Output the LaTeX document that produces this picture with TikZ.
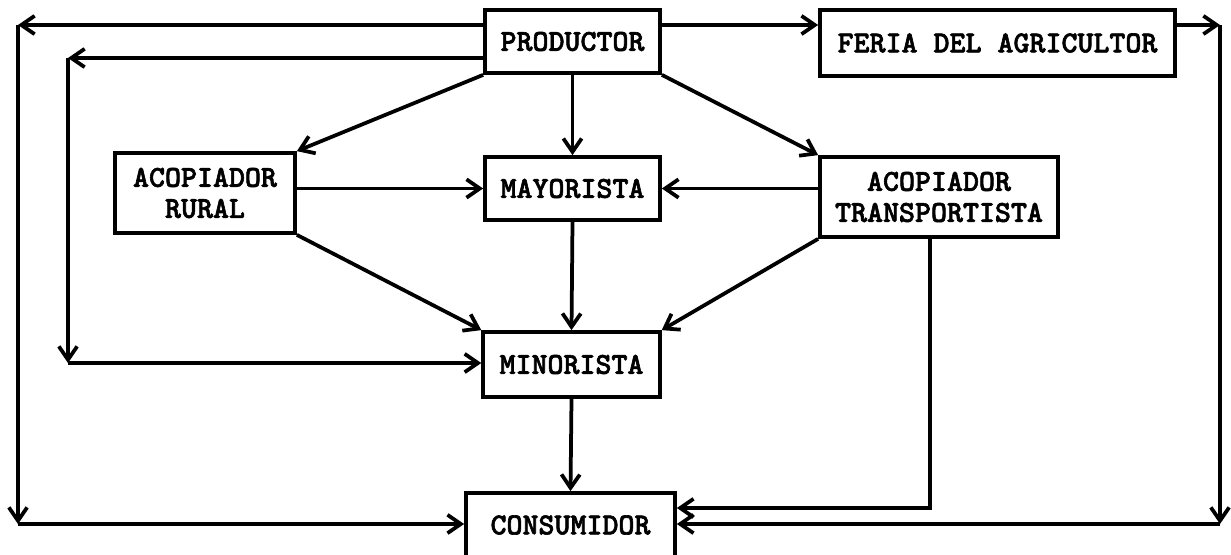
\documentclass[tikz,border=0pt]{standalone}
\usepackage{fontspec}
\usepackage{tikz}
\usetikzlibrary{arrows.meta}
\newfontfamily\boxfont{lmmonolt10-bold.otf}[FakeBold=2]

\begin{document}
\begin{tikzpicture}[x=0.03cm,y=-0.03cm,
	>={Straight Barb[length=4mm,width=5.5mm]},
	flow/.style={->,line width=3.2pt},
	box/.style={draw,line width=3.2pt,inner sep=0pt,align=center,
		font=\boxfont\fontsize{26}{26.5}\selectfont}]
	
	\useasboundingbox (0,0) rectangle (1231,554);
	
	\node[box,minimum width=5.25cm,minimum height=1.89cm] at (572.5,41.5) (prod) {PRODUCTOR};
	\node[box,minimum width=10.65cm,minimum height=1.98cm] at (997.5,43) (feria) {FERIA DEL AGRICULTOR};
	\node[box,minimum width=5.4cm,minimum height=2.4cm] at (205,193) (rural) {ACOPIADOR\\RURAL};
	\node[box,minimum width=5.25cm,minimum height=1.89cm] at (572.5,188.5) (may) {MAYORISTA};
	\node[box,minimum width=7.14cm,minimum height=2.4cm] at (939,197) (trans) {ACOPIADOR\\TRANSPORTISTA};
	\node[box,minimum width=5.3cm,minimum height=1.95cm] at (571.5,364.5) (min) {MINORISTA};
	\node[box,minimum width=6.27cm,minimum height=1.92cm] at (570.5,525) (cons) {CONSUMIDOR};
	
	% corners of the long paths
	\coordinate (outNW) at (18,25);
	\coordinate (outSW) at (18,524);
	\coordinate (inNW) at (68,58);
	\coordinate (inSW) at (68,363);
	\coordinate (outNE) at (1220,25);
	\coordinate (outSE) at (1220,524);
	\coordinate (transS) at (930,508);
	
	\foreach \s/\t in {prod.south west/rural.north east,prod.south/may.north,
		prod.south east/trans.north west,may.south/min.north,
		rural.south east/min.north west,trans.south west/min.north east,
		min.south/cons.north}
		\draw[flow] (\s) -- (\t);
	
	\draw[flow] (rural.east |- may.west) -- (may.west);
	\draw[flow] (trans.west |- may.east) -- (may.east);
	
	% outer left
	\draw[flow] (prod.west |- outNW) -- (outNW);
	\draw[flow] (outNW) -- (outSW);
	\draw[flow] (outSW) -- (cons.west |- outSW);
	
	% inner left
	\draw[flow] (prod.west |- inNW) -- (inNW);
	\draw[flow] (inNW) -- (inSW);
	\draw[flow] (inSW) -- (min.west |- inSW);
	
	% right side
	\draw[flow] (prod.east |- outNW) -- (feria.west |- outNW);
	\draw[flow] (feria.east |- outNE) -- (outNE);
	\draw[flow] (outNE) -- (outSE);
	\draw[flow] (outSE) -- (cons.east |- outSE);
	\draw[flow] (trans.south -| transS) -- (transS) -- (cons.east |- transS);
\end{tikzpicture}
\end{document}
